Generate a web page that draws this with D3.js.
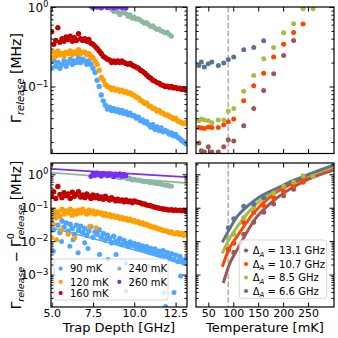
<!DOCTYPE html>
<html>
<head>
<meta charset="utf-8">
<script src="https://d3js.org/d3.v7.min.js"></script>
<style>
  body { margin: 0; background: #fff; }
  svg text { font-family: "DejaVu Sans", sans-serif; fill: #000; }
  .tick line { stroke: #000; stroke-width: 1; }
</style>
</head>
<body>
<svg width="338" height="338"></svg>
<script>
// ---- data ----
const trapDepth = [
  5.0, 5.125, 5.25, 5.375, 5.5, 5.625, 5.75, 5.875,
  6.0, 6.125, 6.25, 6.375, 6.5, 6.625, 6.75, 6.875,
  7.0, 7.125, 7.25, 7.375, 7.5, 7.625, 7.75, 7.875,
  8.0, 8.125, 8.25, 8.375, 8.5, 8.625, 8.75, 8.875,
  9.0, 9.125, 9.25, 9.375, 9.5, 9.625, 9.75, 9.875,
  10.0, 10.125, 10.25, 10.375, 10.5, 10.625, 10.75, 10.875,
  11.0, 11.125, 11.25, 11.375, 11.5, 11.625, 11.75, 11.875,
  12.0, 12.125, 12.25, 12.375, 12.5, 12.625, 12.75, 12.875,
  13.0, 13.125];

const release90 = [
  0.17, 0.21, 0.18, 0.2, 0.17, 0.19, 0.21, 0.18,
  0.2, 0.22, 0.19, 0.21, 0.2, 0.23, 0.2, 0.22,
  0.21, 0.19, 0.21, 0.19, 0.17, 0.15, 0.12, 0.1,
  0.078, 0.066, 0.058, 0.052, 0.055, 0.05, 0.053, 0.049,
  0.051, 0.047, 0.05, 0.046, 0.048, 0.044, 0.046, 0.043,
  0.043, 0.04, 0.041, 0.037, 0.038, 0.035, 0.036, 0.033,
  0.031, 0.033, 0.029, 0.031, 0.028, 0.03, 0.027, 0.028,
  0.027, 0.025, 0.026, 0.024, 0.025, 0.023, 0.022, 0.021,
  0.02, 0.019];
const release120 = [
  0.23, 0.27, 0.24, 0.28, 0.25, 0.26, 0.24, 0.27,
  0.26, 0.28, 0.25, 0.27, 0.26, 0.29, 0.26, 0.27,
  0.27, 0.25, 0.26, 0.24, 0.23, 0.21, 0.19, 0.16,
  0.13, 0.12, 0.105, 0.1, 0.097, 0.092, 0.095, 0.09,
  0.091, 0.087, 0.09, 0.085, 0.086, 0.082, 0.083, 0.079,
  0.077, 0.073, 0.072, 0.067, 0.065, 0.061, 0.062, 0.057,
  0.056, 0.053, 0.052, 0.049, 0.05, 0.047, 0.046, 0.044,
  0.044, 0.042, 0.041, 0.039, 0.04, 0.037, 0.036, 0.035,
  0.034, 0.035];
const release160 = [
  0.49, 0.34, 0.38, 0.55, 0.36, 0.4, 0.37, 0.42,
  0.39, 0.43, 0.37, 0.41, 0.38, 0.46, 0.4, 0.38,
  0.4, 0.37, 0.39, 0.35, 0.34, 0.32, 0.3, 0.28,
  0.26, 0.24, 0.23, 0.22, 0.215, 0.2, 0.21, 0.2,
  0.21, 0.2, 0.21, 0.2, 0.195, 0.19, 0.195, 0.185,
  0.18, 0.175, 0.17, 0.16, 0.155, 0.148, 0.14, 0.132,
  0.127, 0.12, 0.117, 0.112, 0.11, 0.105, 0.103, 0.1,
  0.101, 0.098, 0.1, 0.096, 0.097, 0.094, 0.095, 0.092,
  0.094, 0.09];

const depth240 = [
  8.625, 8.75, 8.875, 9.0, 9.125, 9.25, 9.375, 9.5,
  9.625, 9.75, 9.875, 10.0, 10.125, 10.25, 10.375, 10.5,
  10.625, 10.75, 10.875, 11.0, 11.125, 11.25, 11.375, 11.5,
  11.625, 11.75, 11.875, 12.0, 12.125, 12.25];
const release240 = [
  0.93, 0.88, 0.96, 0.86, 0.8, 0.84, 0.9, 0.82,
  0.76, 0.8, 0.72, 0.75, 0.7, 0.71, 0.68, 0.65,
  0.62, 0.64, 0.6, 0.57, 0.58, 0.54, 0.52, 0.53,
  0.5, 0.49, 0.47, 0.48, 0.45, 0.43];
const depth260 = [
  7.375, 7.5, 7.625, 7.75, 7.875, 8.0, 8.125, 8.25,
  8.375, 8.5, 8.625, 8.75, 8.875, 9.0, 9.125, 9.25,
  9.375, 9.5];
const release260 = [
  1.02, 0.98, 1.05, 0.99, 1.03, 0.97, 1.01, 1.04,
  0.98, 1.0, 1.06, 0.97, 1.02, 0.99, 1.03, 0.98,
  1.01, 0.97];

// excess rate (bottom left)
const excess90 = [
  0.045, 0.022, 0.07, 0.03, 0.018, 0.04, 0.026, 0.035,
  0.02, 0.032, 0.024, 0.016, 0.03, 0.021, 0.028, 0.018,
  0.024, 0.015, 0.02, 0.027, 0.013, 0.019, 0.016, 0.022,
  0.013, 0.017, 0.011, 0.015, 0.012, 0.009, 0.014, 0.01,
  0.0095, 0.012, 0.008, 0.0105, 0.0085, 0.007, 0.0095, 0.0075,
  0.0085, 0.0065, 0.008, 0.006, 0.0072, 0.0055, 0.0068, 0.005,
  0.006, 0.0045, 0.0058, 0.0042, 0.005, 0.0038, 0.0052, 0.0036,
  0.0045, 0.0032, 0.0042, 0.0028, 0.0038, 0.0025, 0.0035, 0.0027,
  0.0022, 0.003];
const excess120 = [
  0.06, 0.085, 0.05, 0.075, 0.055, 0.09, 0.065, 0.08,
  0.07, 0.09, 0.06, 0.08, 0.065, 0.085, 0.07, 0.09,
  0.075, 0.065, 0.085, 0.07, 0.08, 0.065, 0.075, 0.068,
  0.07, 0.06, 0.066, 0.058, 0.062, 0.054, 0.058, 0.052,
  0.054, 0.048, 0.051, 0.045, 0.048, 0.042, 0.045, 0.04,
  0.041, 0.037, 0.038, 0.034, 0.035, 0.031, 0.032, 0.029,
  0.028, 0.026, 0.026, 0.024, 0.023, 0.022, 0.021, 0.02,
  0.02, 0.018, 0.019, 0.017, 0.017, 0.018, 0.016, 0.017,
  0.015, 0.016];
const excess160 = [
  0.22, 0.3, 0.19, 0.43, 0.25, 0.2, 0.28, 0.23,
  0.26, 0.19, 0.29, 0.22, 0.25, 0.3, 0.21, 0.24,
  0.2, 0.26, 0.22, 0.19, 0.24, 0.2, 0.23, 0.19,
  0.21, 0.18, 0.22, 0.19, 0.17, 0.2, 0.18, 0.16,
  0.18, 0.16, 0.17, 0.15, 0.17, 0.15, 0.16, 0.14,
  0.16, 0.15, 0.145, 0.14, 0.13, 0.13, 0.12, 0.118,
  0.115, 0.108, 0.104, 0.1, 0.097, 0.094, 0.092, 0.09,
  0.087, 0.085, 0.088, 0.083, 0.086, 0.082, 0.085, 0.081,
  0.083, 0.08];
const excess240 = [
  0.9, 0.84, 0.92, 0.82, 0.78, 0.8, 0.86, 0.77,
  0.72, 0.76, 0.68, 0.71, 0.66, 0.68, 0.64, 0.62,
  0.6, 0.62, 0.58, 0.56, 0.57, 0.54, 0.52, 0.53,
  0.5, 0.49, 0.47, 0.48, 0.45, 0.44];
const excess260 = [
  0.86, 1.05, 0.92, 1.1, 0.97, 0.88, 1.08, 1.0,
  0.9, 1.06, 0.95, 0.85, 1.02, 0.93, 1.04, 0.88,
  0.98, 0.9];

// stray points below the main bands
const stray90Depth = [5.1, 5.6, 6.1, 6.3, 6.6, 7.0, 7.2, 7.9, 8.4, 8.9, 9.5, 9.5, 9.8, 10.1, 10.4, 10.9, 11.6, 11.8, 11.9, 12.4, 12.8];
const stray90 = [0.005, 0.0098, 0.007, 0.011, 0.0045, 0.009, 0.006, 0.004, 0.0028, 0.004, 0.0022, 0.00032, 0.00063, 0.0008, 0.0015, 0.0018, 0.0012, 0.00029, 0.00011, 0.00029, 0.0009];
const stray120Depth = [5.0, 5.1, 5.3, 5.6, 6.0, 6.4, 7.3, 7.7];
const stray120 = [0.0126, 0.032, 0.011, 0.022, 0.016, 0.0126, 0.028, 0.025];

// fit lines, bottom left
const fitDepth = [4.96, 13.19];
const fit240 = [1.13, 0.55];
const fit260 = [1.45, 0.82];
const fit90Depth = [4.96, 9.0, 13.19];
const fit90 = [0.025, 0.0075, 0.0019];

// temperature sweeps (top right)
const temps = [31, 36, 42, 50, 57, 70, 81, 90, 101, 121, 141, 161, 181, 201, 221, 240, 260];
const rate131 = [0.0194, 0.0155, 0.015, 0.0174, 0.015, 0.015, 0.0174, 0.0214, 0.0206, 0.032, 0.053, 0.089, 0.145, 0.245, 0.38, null, null];
const rate107 = [0.0305, 0.03, 0.0297, 0.031, 0.0305, 0.0305, 0.033, 0.036, 0.039, 0.066, 0.102, 0.147, 0.235, 0.34, 0.478, 0.61, null];
const rate85 = [0.037, 0.039, 0.038, 0.037, 0.035, 0.038, 0.038, 0.049, 0.053, 0.087, 0.138, 0.224, 0.31, 0.473, 0.615, 0.95, 0.95];
const rate66 = [0.184, 0.203, 0.176, 0.193, 0.203, 0.184, 0.197, 0.218, 0.235, 0.29, 0.31, 0.375, null, null, null, null, null];

// excess vs temperature (bottom right)
const hotTemps = [90, 101, 121, 141, 161, 181, 201, 221, 240, 260];
const excess131 = [0.0054, 0.0046, 0.016, 0.037, 0.073, 0.13, 0.23, 0.36, null, null];
const excess107 = [0.0057, 0.0087, 0.036, 0.072, 0.117, 0.2, 0.31, 0.45, 0.58, null];
const excess85 = [0.012, 0.016, 0.05, 0.1, 0.19, 0.27, 0.44, 0.58, 0.9, 0.88];
const excess66 = [0.025, 0.047, 0.11, 0.13, 0.2, null, null, null, null, null];

const fit131T = [80, 91, 108, 148, 175, 241, 302];
const fit131 = [0.00056, 0.0018, 0.0056, 0.055, 0.138, 0.61, 1.36];
const fit107T = [78, 91, 108, 141, 175, 228, 302];
const fit107 = [0.0017, 0.0056, 0.014, 0.07, 0.22, 0.61, 1.56];
const fit85T = [78, 91, 108, 141, 175, 208, 255, 302];
const fit85 = [0.0043, 0.011, 0.027, 0.11, 0.27, 0.55, 0.97, 1.7];
const fit66T = [78, 91, 108, 128, 155, 195, 241, 302];
const fit66 = [0.0092, 0.021, 0.055, 0.11, 0.22, 0.43, 0.86, 1.9];

const cutoffTemp = 90;

const depthLabels = ['90 mK', '120 mK', '160 mK', '240 mK', '260 mK'];
const depthColors = ['#4da6ff', '#ffa000', '#c20000', '#8db8a0', '#7a2ef5'];
const detuneLabels = ['13.1', '10.7', '8.5', '6.6'];
const detuneColors = ['#9e5656', '#ff4500', '#aabb44', '#5c7391'];

// ---- layout ----
const svg = d3.select('svg');
const L = { x0: 51, x1: 187 }, R = { x0: 196, x1: 334 };
const T = { y0: 7, y1: 153.5 }, B = { y0: 163, y1: 307 };

const xDepth = d3.scaleLinear().domain([4.96, 13.19]).range([L.x0, L.x1]);
const xTemp = d3.scaleLinear().domain([25.3, 302]).range([R.x0, R.x1]);
const yTop = d3.scaleLog().domain([0.01436, 1]).range([T.y1, T.y0]);
const yBot = d3.scaleLog().domain([1.07e-4, 2.18]).range([B.y1, B.y0]);

const minors = (lo, hi) => {
  const out = [];
  for (let k = -5; k <= 1; k++) for (let m = 2; m <= 9; m++) {
    const v = m * Math.pow(10, k);
    if (v > lo && v < hi) out.push(v);
  }
  return out;
};

let clipId = 0;
function panel(px, py) {
  const id = 'clip' + (clipId++);
  svg.append('clipPath').attr('id', id).append('rect')
    .attr('x', px.x0).attr('y', py.y0)
    .attr('width', px.x1 - px.x0).attr('height', py.y1 - py.y0);
  return svg.append('g').attr('clip-path', `url(#${id})`);
}

function axes(xs, ys, px, py, xTicks, xFmt, yMajor, showY) {
  const g = svg.append('g');
  const yMinor = minors(ys.domain()[0], ys.domain()[1]);
  const add = (axis, tr, keepText) => {
    const a = g.append('g').attr('transform', tr).call(axis);
    a.select('.domain').remove();
    if (!keepText) a.selectAll('.tick text').remove();
    return a;
  };
  add(d3.axisBottom(xs).tickValues(xTicks).tickSize(-4.5).tickPadding(2.2)
    .tickFormat(xFmt || (() => '')), `translate(0,${py.y1})`, !!xFmt);
  add(d3.axisTop(xs).tickValues(xTicks).tickSize(-4.5), `translate(0,${py.y0})`);
  const yl = add(d3.axisLeft(ys).tickValues(yMajor).tickSize(-4.5).tickPadding(2.5),
    `translate(${px.x0},0)`, showY);
  add(d3.axisLeft(ys).tickValues(yMinor).tickSize(-2.5), `translate(${px.x0},0)`);
  add(d3.axisRight(ys).tickValues(yMajor).tickSize(-4.5), `translate(${px.x1},0)`);
  add(d3.axisRight(ys).tickValues(yMinor).tickSize(-2.5), `translate(${px.x1},0)`);
  g.selectAll('text').attr('font-family', null).style('font-size', '11px');
  if (showY) {
    yl.selectAll('.tick text').each(function (d) {
      const e = Math.round(Math.log10(d));
      const t = d3.select(this).text(null).style('font-size', '12px').attr('dy', '0.35em');
      t.append('tspan').text('10');
      t.append('tspan').attr('dy', '-0.55em').style('font-size', '8.5px')
        .text(e === 0 ? '0' : '\u2212' + (-e));
    });
  }
  svg.append('rect').attr('x', px.x0).attr('y', py.y0)
    .attr('width', px.x1 - px.x0).attr('height', py.y1 - py.y0)
    .attr('fill', 'none').attr('stroke', '#000').attr('stroke-width', 1.2);
}

function dots(g, xs, ys, xv, yv, color, r = 2.5) {
  const pts = xv.map((x, i) => [x, yv[i]]).filter(d => d[1] != null);
  g.selectAll(null).data(pts).enter().append('circle')
    .attr('cx', d => xs(d[0])).attr('cy', d => ys(d[1]))
    .attr('r', r).attr('fill', color);
}

function line(g, xs, ys, xv, yv, color, w) {
  const pts = xv.map((x, i) => [x, yv[i]]);
  g.append('path').datum(pts)
    .attr('d', d3.line().x(d => xs(d[0])).y(d => ys(d[1])).curve(d3.curveMonotoneX))
    .attr('fill', 'none').attr('stroke', color).attr('stroke-width', w);
}

function cutoff(g, py) {
  g.append('line').attr('x1', xTemp(cutoffTemp)).attr('x2', xTemp(cutoffTemp))
    .attr('y1', py.y0).attr('y2', py.y1)
    .attr('stroke', '#b3b3b3').attr('stroke-width', 1.6)
    .attr('stroke-dasharray', '5.5,2.4');
}

const depthFmt = d => d.toFixed(1);
const tempFmt = d => String(d);

// top left
const gTL = panel(L, T);
dots(gTL, xDepth, yTop, trapDepth, release90, depthColors[0], 2.7);
dots(gTL, xDepth, yTop, trapDepth, release120, depthColors[1], 2.7);
dots(gTL, xDepth, yTop, trapDepth, release160, depthColors[2], 2.7);
dots(gTL, xDepth, yTop, depth240, release240, depthColors[3]);
dots(gTL, xDepth, yTop, depth260, release260, depthColors[4]);
axes(xDepth, yTop, L, T, [5, 7.5, 10, 12.5], null, [0.1, 1], true);

// top right
const gTR = panel(R, T);
cutoff(gTR, T);
dots(gTR, xTemp, yTop, temps, rate131, detuneColors[0]);
dots(gTR, xTemp, yTop, temps, rate107, detuneColors[1]);
dots(gTR, xTemp, yTop, temps, rate85, detuneColors[2]);
dots(gTR, xTemp, yTop, temps, rate66, detuneColors[3]);
axes(xTemp, yTop, R, T, [50, 100, 150, 200, 250], null, [0.1, 1], false);

// bottom left
const gBL = panel(L, B);
dots(gBL, xDepth, yBot, trapDepth, excess90, depthColors[0], 2.7);
dots(gBL, xDepth, yBot, stray90Depth, stray90, depthColors[0]);
line(gBL, xDepth, yBot, fit90Depth, fit90, depthColors[0], 1.5);
dots(gBL, xDepth, yBot, trapDepth, excess120, depthColors[1], 2.7);
dots(gBL, xDepth, yBot, stray120Depth, stray120, depthColors[1]);
dots(gBL, xDepth, yBot, trapDepth, excess160, depthColors[2], 2.7);
dots(gBL, xDepth, yBot, depth240, excess240, depthColors[3]);
line(gBL, xDepth, yBot, fitDepth, fit240, depthColors[3], 1.8);
dots(gBL, xDepth, yBot, depth260, excess260, depthColors[4]);
line(gBL, xDepth, yBot, fitDepth, fit260, depthColors[4], 1.8);
axes(xDepth, yBot, L, B, [5, 7.5, 10, 12.5], depthFmt, [1e-3, 1e-2, 1e-1, 1], true);

// bottom right
const gBR = panel(R, B);
cutoff(gBR, B);
line(gBR, xTemp, yBot, fit131T, fit131, detuneColors[0], 3);
line(gBR, xTemp, yBot, fit107T, fit107, detuneColors[1], 3);
line(gBR, xTemp, yBot, fit85T, fit85, detuneColors[2], 3);
line(gBR, xTemp, yBot, fit66T, fit66, detuneColors[3], 3);
dots(gBR, xTemp, yBot, hotTemps, excess131, detuneColors[0]);
dots(gBR, xTemp, yBot, hotTemps, excess107, detuneColors[1]);
dots(gBR, xTemp, yBot, hotTemps, excess85, detuneColors[2]);
dots(gBR, xTemp, yBot, hotTemps, excess66, detuneColors[3]);
axes(xTemp, yBot, R, B, [50, 100, 150, 200, 250], tempFmt, [1e-3, 1e-2, 1e-1, 1], false);

// ---- legends ----
const lg1 = svg.append('g');
lg1.append('rect').attr('x', 54).attr('y', 259).attr('width', 114).attr('height', 41)
  .attr('rx', 2.5).attr('fill', '#fff').attr('fill-opacity', 0.8)
  .attr('stroke', '#cccccc').attr('stroke-width', 0.8);
const slot = [[60.7, 268.7], [60.7, 281.9], [60.7, 293], [119.3, 268.7], [119.3, 281.9]];
depthLabels.forEach((lab, i) => {
  lg1.append('circle').attr('cx', slot[i][0]).attr('cy', slot[i][1]).attr('r', 2.1).attr('fill', depthColors[i]);
  lg1.append('text').attr('x', slot[i][0] + 9.3).attr('y', slot[i][1] + 3.6)
    .style('font-size', '10px').text(lab);
});

const lg2 = svg.append('g');
lg2.append('rect').attr('x', 239.3).attr('y', 240).attr('width', 87.4).attr('height', 58.3)
  .attr('rx', 2.5).attr('fill', '#fff').attr('fill-opacity', 0.8)
  .attr('stroke', '#cccccc').attr('stroke-width', 0.8);
detuneLabels.forEach((lab, i) => {
  const cy = 250.5 + i * 13.5;
  lg2.append('circle').attr('cx', 246).attr('cy', cy).attr('r', 2.1).attr('fill', detuneColors[i]);
  const t = lg2.append('text').attr('x', 252.7).attr('y', cy + 3.6).style('font-size', '10px');
  t.append('tspan').text('\u0394');
  t.append('tspan').attr('dy', 2.5).style('font-size', '7px').style('font-style', 'italic').text('A');
  t.append('tspan').attr('dy', -2.5).text(` = ${lab} GHz`);
});

// ---- axis titles ----
svg.append('text').attr('x', 119).attr('y', 332).attr('text-anchor', 'middle')
  .style('font-size', '13px').text('Trap Depth [GHz]');
svg.append('text').attr('x', 265).attr('y', 332).attr('text-anchor', 'middle')
  .style('font-size', '13px').text('Temperature [mK]');

function gammaLabel(cx, cy, diff, fs, ss) {
  const t = svg.append('text').attr('transform', `translate(${cx},${cy}) rotate(-90)`)
    .attr('text-anchor', 'middle').style('font-size', fs + 'px');
  t.append('tspan').text('\u0393');
  t.append('tspan').attr('dy', 3).style('font-size', ss + 'px').style('font-style', 'italic').text('release');
  if (diff) {
    t.append('tspan').attr('dy', -3).text(' \u2212 \u0393');
    t.append('tspan').attr('dy', -6.5).style('font-size', ss + 'px').text('0');
    t.append('tspan').attr('dx', -0.64 * ss).attr('dy', 9.5).style('font-size', ss + 'px').style('font-style', 'italic').text('release');
  }
  t.append('tspan').attr('dy', -3).text(' [MHz]');
}
gammaLabel(21, 78, false, 14, 10);
gammaLabel(20.5, 235, true, 13.5, 9.5);
</script>
</body>
</html>
